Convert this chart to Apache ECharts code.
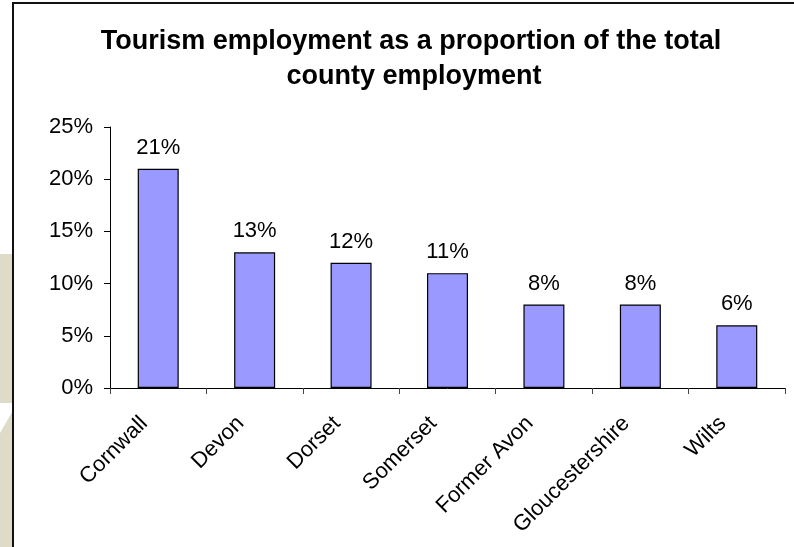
<!DOCTYPE html>
<html>
<head>
<meta charset="utf-8">
<script src="https://cdn.jsdelivr.net/npm/echarts@6/dist/echarts.min.js"></script>
<style>
  html, body { margin: 0; padding: 0; background: #fff; }
  #wrap { position: relative; width: 794px; height: 547px; overflow: hidden; }
  #beige { position: absolute; left: 0; top: 254px; width: 13px; height: 293px; background: #dedcc8; }
  #wedge { position: absolute; left: 0; top: 403px; width: 13px; height: 30px; background: #fff; clip-path: polygon(0 0, 100% 0, 100% 25%, 0 100%); }
  #frame { position: absolute; left: 12px; top: 2px; width: 900px; height: 700px; border-left: 2px solid #111; border-top: 2px solid #111; box-sizing: border-box; }
  #chart { position: absolute; left: 0; top: 0; width: 794px; height: 547px; }
</style>
</head>
<body>
<div id="wrap">
  <div id="beige"></div>
  <div id="wedge"></div>
  <div id="frame"></div>
  <div id="chart"></div>
</div>
<script>
const categories = ['Cornwall', 'Devon', 'Dorset', 'Somerset', 'Former Avon', 'Gloucestershire', 'Wilts'];
const values = [21, 13, 12, 11, 8, 8, 6];
const titleLines = ['Tourism employment as a proportion of the total', 'county employment'];

const chart = echarts.init(document.getElementById('chart'), null, { renderer: 'canvas' });
const font = 'Liberation Sans, Arial, sans-serif';
chart.setOption({
  backgroundColor: 'transparent',
  animation: false,
  textStyle: { fontFamily: font },
  graphic: [
    { type: 'text', style: { text: titleLines[0], x: 411, y: 42, textAlign: 'center', textVerticalAlign: 'middle', font: 'bold 27px ' + font, fill: '#000' } },
    { type: 'text', style: { text: titleLines[1], x: 414, y: 77, textAlign: 'center', textVerticalAlign: 'middle', font: 'bold 27px ' + font, fill: '#000' } }
  ],
  grid: { left: 110, right: 9, top: 127, bottom: 159, containLabel: false },
  xAxis: {
    type: 'category',
    data: categories,
    axisLine: { lineStyle: { color: '#000', width: 1 } },
    axisTick: { show: true, length: 6, lineStyle: { color: '#444' } },
    axisLabel: { rotate: 45, fontSize: 22, color: '#000', margin: 18, padding: [0, 20, 0, 0], fontFamily: font }
  },
  yAxis: {
    type: 'value',
    min: 0, max: 25, interval: 5,
    axisLine: { show: true, lineStyle: { color: '#000', width: 1 } },
    axisTick: { show: true, length: 6, lineStyle: { color: '#000' } },
    splitLine: { show: false },
    axisLabel: { formatter: '{value}%', fontSize: 22, color: '#000', margin: 17, fontFamily: font }
  },
  series: [{
    type: 'bar',
    data: values,
    barWidth: 41,
    itemStyle: { color: '#9999ff', borderColor: '#000', borderWidth: 1.2 },
    label: { show: true, position: 'top', distance: 10, formatter: '{c}%', fontSize: 22, color: '#000', fontFamily: font }
  }]
});
</script>
</body>
</html>
